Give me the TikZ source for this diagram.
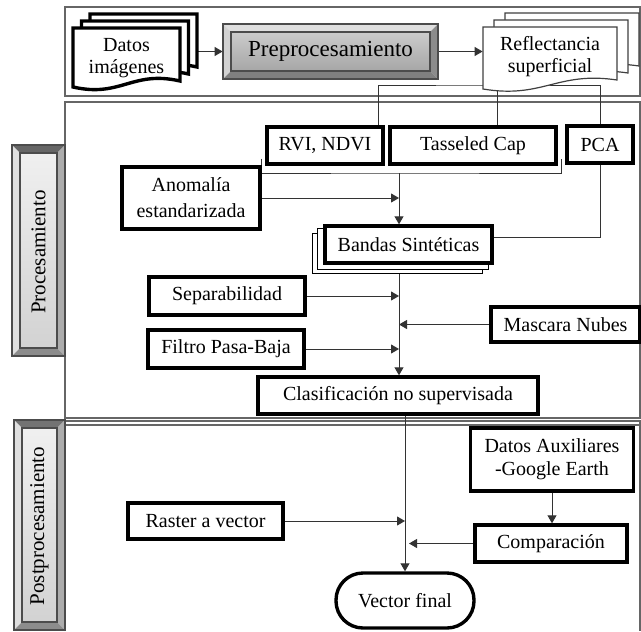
\documentclass[tikz,border=0pt]{standalone}
\usepackage{fontspec}
\setmainfont{Liberation Serif}
\usetikzlibrary{calc,arrows.meta}
\pgfdeclarelayer{bg}
\pgfsetlayers{bg,main}
\tikzset{
  box/.style={draw=black,line width=1.7pt,fill=white,inner sep=0pt,align=center,
    font=\fontsize{10}{12}\selectfont},
  link/.style={draw=black!80,line width=0.5pt},
  arr/.style={link,-{Triangle[length=4pt,width=4.5pt]}},
  panel/.style={draw=black!60,line width=0.8pt},
}

\begin{document}
\begin{tikzpicture}[x=0.5pt,y=-0.5pt]
  \useasboundingbox (0,0) rectangle (641,631);

  \foreach \xa/\ya/\xb/\yb/\d/\ct/\cl/\cr/\cb/\fa/\fb in {
      223/24/438/79/8/gray!25/gray!35/black!45/black!50/gray!40/gray!70,
      12/145/65/356/8/black!60/gray!25/gray!65/black!45/gray!12/gray!35,
      14/420/65/630/8/black!55/gray!25/gray!65/black!45/gray!12/gray!35} {
    \fill[\ct] (\xa,\ya) -- (\xb,\ya) -- (\xb-\d,\ya+\d) -- (\xa+\d,\ya+\d) -- cycle;
    \fill[\cl] (\xa,\ya) -- (\xa+\d,\ya+\d) -- (\xa+\d,\yb-\d) -- (\xa,\yb) -- cycle;
    \fill[\cr] (\xb,\ya) -- (\xb-\d,\ya+\d) -- (\xb-\d,\yb-\d) -- (\xb,\yb) -- cycle;
    \fill[\cb] (\xa,\yb) -- (\xa+\d,\yb-\d) -- (\xb-\d,\yb-\d) -- (\xb,\yb) -- cycle;
    \shade[top color=\fa,bottom color=\fb] (\xa+\d,\ya+\d) rectangle (\xb-\d,\yb-\d);
    \draw[black!70,line width=0.6pt] (\xa,\ya) rectangle (\xb,\yb)
      (\xa+\d,\ya+\d) rectangle (\xb-\d,\yb-\d);
  }
  \node[inner sep=0,minimum width=107.5pt,minimum height=27.5pt,
    font=\fontsize{11.5}{13}\selectfont] (prep) at (330.5,51.5) {Preprocesamiento};
  \node[rotate=90,font=\fontsize{10.5}{12}\selectfont] (proc) at (38.5,252) {Procesamiento};
  \node[rotate=90,font=\fontsize{10.5}{12}\selectfont] (post) at (39.5,526) {Postprocesamiento};

  \foreach \s [evaluate=\s as \x using 73+8.5*\s, evaluate=\s as \y using 28-7*\s] in {2,1,0}
    \draw[line width=1.7pt,fill=white] (\x,\y) -- (\x+107,\y) -- (\x+107,\y+53)
      .. controls (\x+59,\y+42) and (\x+48,\y+70) .. (\x,\y+59) -- cycle;
  \foreach \s [evaluate=\s as \x using 483+11*\s, evaluate=\s as \y using 27-7*\s] in {2,1,0}
    \draw[line width=0.6pt,draw=black!75,fill=white] (\x,\y) -- (\x+134,\y) -- (\x+134,\y+53)
      .. controls (\x+74,\y+44) and (\x+60,\y+72) .. (\x,\y+62) -- cycle;
  \node[inner sep=0,minimum width=53.5pt,minimum height=29.5pt,align=center,
    font=\fontsize{10}{11}\selectfont] (datos) at (126.5,58.5) {Datos\\imágenes};
  \node[inner sep=0,minimum width=67pt,minimum height=31pt,align=center,
    font=\fontsize{10}{11}\selectfont] (refl) at (550,56.5) {Reflectancia\\superficial};

  \node[box,minimum width=58pt,minimum height=18.5pt] (rvi) at (325,145.5) {RVI, NDVI};
  \node[box,minimum width=83pt,minimum height=18.5pt] (tc) at (473,145.5) {Tasseled Cap};
  \node[box,minimum width=33pt,minimum height=18.5pt] (pca) at (600,144.5) {PCA};
  \node[box,minimum width=69pt,minimum height=31pt,font=\fontsize{10}{13}\selectfont]
    (anom) at (191,198) {Anomalía\\estandarizada};
  \node[box,minimum width=83.5pt,minimum height=18.5pt] (bandas) at (408.5,244.5) {Bandas Sintéticas};
  \node[box,minimum width=78pt,minimum height=19pt] (sep) at (227,296) {Separabilidad};
  \node[box,minimum width=74.5pt,minimum height=17.5pt] (masc) at (565.5,324.5) {Mascara Nubes};
  \node[box,minimum width=78pt,minimum height=19pt] (filt) at (226,349) {Filtro Pasa-Baja};
  \node[box,minimum width=140pt,minimum height=18.5pt] (clas) at (398,395.5) {Clasificación no supervisada};
  \node[box,minimum width=81.5pt,minimum height=31.5pt,font=\fontsize{10}{11.5}\selectfont]
    (aux) at (552,459.5) {Datos Auxiliares\\-Google Earth};
  \node[box,minimum width=76pt,minimum height=18.5pt] (comp) at (551,543.5) {Comparación};
  \node[box,minimum width=77.5pt,minimum height=18pt] (rast) at (205.5,521) {Raster a vector};
  \node[box,minimum width=69pt,minimum height=27.5pt,rounded corners=13.5pt] (vfin) at (405,600.5) {Vector final};

  \coordinate (jl) at (378,86);
  \coordinate (jn) at (497,86);
  \coordinate (brk) at (399,173);

  \begin{pgfonlayer}{bg}
    \draw[panel] (65,7) rectangle (640,96) (65,102) rectangle (640,418);
    \draw[panel] (65,631) -- (65,421) -- (640,421) -- (640,631) (65,425) -- (640,425);

    \draw[arr] ([xshift=8.5pt]datos.east |- prep.west) -- (prep.west);
    \draw[arr] (prep.east) -- (refl.west |- prep.east);
    \draw[link] (jl |- rvi.north) -- (jl) -- (jn) -| (pca.north);
    \draw[link] (jn) -- (jn |- tc.north);
    \draw[link] ([shift={(-4,-7)}]rvi.south west) |- (brk) -| ([shift={(4,-7)}]tc.south east);
    \draw[arr] (brk) -- (brk |- bandas.north);
    \draw[arr] (anom.east) -- (anom.east -| brk);
    \draw[link] (pca.south) |- ([yshift=3.5pt]bandas.east);
    \draw[arr] (brk |- bandas.south) -- (brk |- clas.north);
    \draw[arr] (sep.east) -- (sep.east -| brk);
    \draw[arr] (filt.east) -- (filt.east -| brk);
    \draw[arr] (masc.west) -- (masc.west -| brk);
    \draw[arr] (clas.south -| vfin.north) -- (vfin.north);
    \draw[arr] (rast.east) -- (rast.east -| vfin.north);
    \draw[arr] (comp.west) -- ([xshift=2pt]comp.west -| vfin.north);
    \draw[arr] (aux.south) -- (aux.south |- comp.north);

    \foreach \s in {2,1}
      \draw[line width=0.6pt,fill=white] ([shift={(-5.5*\s,4.5*\s)}]bandas.south west)
        rectangle ([shift={(-5.5*\s,4.5*\s)}]bandas.north east);
  \end{pgfonlayer}
\end{tikzpicture}
\end{document}
